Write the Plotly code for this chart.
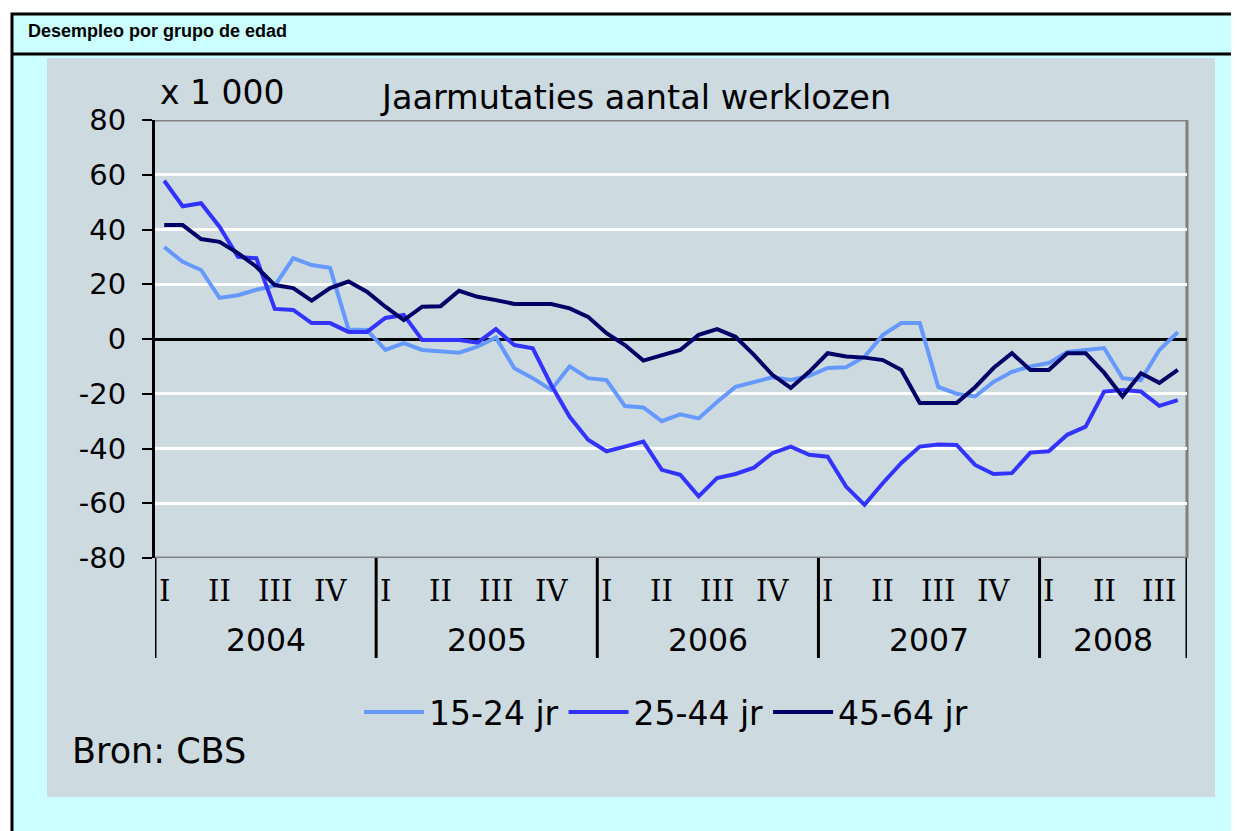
import plotly.graph_objects as go

# ---------------- data ----------------
years = [2004, 2005, 2006, 2007, 2008]
quarter_labels = ["I", "II", "III", "IV"]
n_months = 56  # Jan 2004 .. Aug 2008
series_names = ["15-24 jr", "25-44 jr", "45-64 jr"]
series_colors = ["#6699FF", "#3333FF", "#000066"]

jr_15_24 = [33.6, 28.2, 25.2, 15.0, 16.0, 18.0, 19.5, 29.5, 27.0, 26.0, 3.5, 3.3,
            -4.0, -1.5, -4.0, -4.4, -5.0, -2.8, 0.6, -10.7, -14.3, -18.6, -10.0, -14.3,
            -15.0, -24.5, -25.0, -30.0, -27.5, -29.0, -23.0, -17.5, -15.6, -14.0, -15.0, -13.5,
            -10.6, -10.3, -6.5, 1.5, 5.8, 5.8, -17.5, -20.0, -21.0, -15.7, -12.0, -10.0,
            -8.8, -4.7, -4.0, -3.3, -14.3, -15.0, -4.0, 2.5]
jr_25_44 = [57.8, 48.5, 49.6, 41.0, 30.0, 29.5, 11.0, 10.6, 5.8, 5.8, 2.6, 2.6,
            7.7, 8.8, -0.4, -0.4, -0.4, -1.3, 3.6, -2.2, -3.4, -16.8, -28.4, -36.8,
            -41.0, -39.3, -37.5, -47.8, -49.6, -57.5, -50.8, -49.3, -47.0, -41.7, -39.3, -42.3,
            -43.0, -53.9, -60.6, -52.6, -45.3, -39.3, -38.5, -38.7, -46.0, -49.3, -49.0, -41.5,
            -41.0, -35.0, -32.0, -19.2, -18.6, -19.2, -24.4, -22.3]
jr_45_64 = [41.6, 41.6, 36.5, 35.5, 31.4, 26.4, 19.7, 18.6, 14.0, 18.6, 21.0, 17.3,
            11.8, 6.9, 11.8, 12.0, 17.6, 15.4, 14.2, 12.8, 12.8, 12.8, 11.2, 8.1,
            2.1, -2.2, -7.9, -5.8, -4.0, 1.5, 3.6, 0.8, -5.8, -13.1, -17.9, -12.0,
            -5.2, -6.4, -6.8, -7.7, -11.3, -23.4, -23.4, -23.4, -17.6, -10.6, -5.2, -11.3,
            -11.3, -5.2, -5.2, -12.3, -21.0, -12.5, -16.0, -11.3]
y_ticks = [-80, -60, -40, -20, 0, 20, 40, 60, 80]

# ---------------- layout geometry (screen pixels) ----------------
SCREEN_W, SCREEN_H = 1239, 831
OFF = 8  # page body margin
W, H = SCREEN_W - OFF, SCREEN_H - OFF
L, R, T, B = 155, 1187, 120, 558  # plot area on screen


def px(x):
    return (x - L) / (R - L)


def py(y):
    return (B - y) / (B - T)


FONT = "DejaVu Sans"
fig = go.Figure()

month_idx = list(range(n_months))
for name, vals, col in zip(series_names, [jr_15_24, jr_25_44, jr_45_64], series_colors):
    fig.add_trace(go.Scatter(x=month_idx, y=vals, mode="lines", name=name,
                             line=dict(color=col, width=4)))

shapes = []
# outer frame and header separator
shapes.append(dict(type="rect", xref="paper", yref="paper", x0=px(12), x1=px(1260),
                   y0=py(14), y1=py(860), line=dict(color="black", width=3),
                   fillcolor="#CCFFFF", layer="below"))
shapes.append(dict(type="line", xref="paper", yref="paper", x0=px(12), x1=px(1260),
                   y0=py(54), y1=py(54), line=dict(color="black", width=3), layer="below"))
# gray panel
shapes.append(dict(type="rect", xref="paper", yref="paper", x0=px(47), x1=px(1215),
                   y0=py(58), y1=py(797), line=dict(width=0),
                   fillcolor="#CDDBE0", layer="below"))
# plot frame (top, bottom, right in gray)
for yv in [80, -80]:
    shapes.append(dict(type="line", xref="paper", yref="y", x0=0, x1=1, y0=yv, y1=yv,
                       line=dict(color="#808080", width=3), layer="below"))
shapes.append(dict(type="line", xref="paper", yref="paper", x0=1, x1=1, y0=0, y1=1,
                   line=dict(color="#808080", width=3), layer="below"))
# year dividers below the axis
year_bounds = [-0.5]
for i in range(1, len(years)):
    year_bounds.append(i * 12 - 0.5)
year_bounds.append(n_months - 0.5)
for xb in year_bounds:
    shapes.append(dict(type="line", xref="x", yref="paper", x0=xb, x1=xb,
                       y0=0, y1=py(658), line=dict(color="black", width=3)))

annotations = []
# header
annotations.append(dict(text="<b>Desempleo por grupo de edad</b>", xref="paper", yref="paper",
                        x=px(26), y=py(31), xanchor="left", yanchor="middle", showarrow=False,
                        font=dict(family="Liberation Sans, Arial", size=18, color="black")))
annotations.append(dict(text="x 1 000", xref="paper", yref="paper", x=px(158), y=py(93),
                        xanchor="left", yanchor="middle", showarrow=False,
                        font=dict(family=FONT, size=33, color="black")))
annotations.append(dict(text="Jaarmutaties aantal werklozen", xref="paper", yref="paper",
                        x=px(635), y=py(97), xanchor="center", yanchor="middle", showarrow=False,
                        font=dict(family=FONT, size=33.5, color="black")))
annotations.append(dict(text="Bron: CBS", xref="paper", yref="paper", x=px(70), y=py(751),
                        xanchor="left", yanchor="middle", showarrow=False,
                        font=dict(family=FONT, size=35, color="black")))
# quarter and year labels
for yi, yr in enumerate(years):
    for qi, ql in enumerate(quarter_labels):
        m = yi * 12 + qi * 3
        if m < n_months:
            annotations.append(dict(text=ql, xref="x", yref="paper", x=m, y=py(591),
                                    xanchor="center", yanchor="middle", showarrow=False,
                                    font=dict(family="DejaVu Serif", size=29, color="black")))
    x0 = year_bounds[yi]
    x1 = year_bounds[yi + 1]
    annotations.append(dict(text=str(yr), xref="x", yref="paper", x=(x0 + x1) / 2, y=py(640),
                            xanchor="center", yanchor="middle", showarrow=False,
                            font=dict(family=FONT, size=31.5, color="black")))

fig.update_layout(
    width=W, height=H,
    margin=dict(l=L - OFF, r=SCREEN_W - R, t=T - OFF, b=SCREEN_H - B),
    paper_bgcolor="white",
    plot_bgcolor="#CDDBE0",
    shapes=shapes,
    annotations=annotations,
    showlegend=True,
    legend=dict(orientation="h", x=px(666), y=py(712), xanchor="center", yanchor="middle",
                bgcolor="rgba(0,0,0,0)", font=dict(family=FONT, size=33, color="black"),
                itemwidth=60, tracegroupgap=0),
    xaxis=dict(range=[-0.5, n_months - 0.5], showgrid=False, zeroline=False,
               showticklabels=False, ticks="", showline=False, fixedrange=True),
    yaxis=dict(range=[-80, 80], tickvals=y_ticks, ticktext=[str(v) for v in y_ticks],
               showgrid=True, gridcolor="white", gridwidth=3,
               zeroline=True, zerolinecolor="black", zerolinewidth=3,
               showline=True, linecolor="black", linewidth=3,
               ticks="outside", ticklen=10, tickwidth=2, tickcolor="black",
               ticklabelstandoff=10,
               tickfont=dict(family=FONT, size=29, color="black"), fixedrange=True),
)

fig.write_html("out.html")
